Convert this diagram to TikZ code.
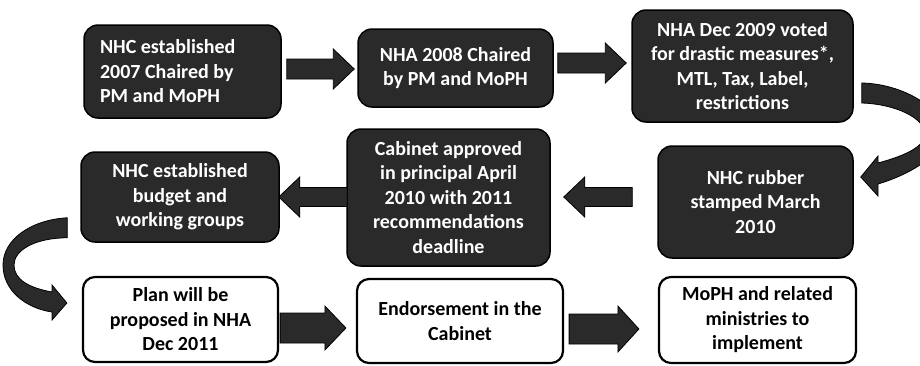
\documentclass[tikz,border=0pt]{standalone}
\usepackage{fontspec}
\setmainfont{Carlito}
\usetikzlibrary{calc}
\definecolor{dk}{HTML}{2A2A2A}
\tikzset{
  boxfont/.style={font=\bfseries\fontsize{20}{24.5}\selectfont},
  darkbox/.style={boxfont, draw=black, line width=1.5pt, fill=dk, rounded corners=14pt,
    text=white, align=center, inner sep=0pt},
  lightbox/.style={boxfont, draw=black, line width=2.2pt, fill=white, rounded corners=12pt,
    text=black, align=center, inner sep=0pt},
  arr/.style={fill=dk, draw=black, line width=0.8pt},
}
% #1 shaft half width, #2 head half width, #3 start, #4 tip
\newcommand\blockarrow[4]{%
  \path[arr] ($(#3)!#1!90:(#4)$)
    -- ($($(#4)!21pt!(#3)$)!#1!-90:(#3)$)
    -- ($($(#4)!21pt!(#3)$)!#2!-90:(#3)$)
    -- (#4)
    -- ($($(#4)!21pt!(#3)$)!#2!90:(#3)$)
    -- ($($(#4)!21pt!(#3)$)!#1!90:(#3)$)
    -- ($(#3)!#1!-90:(#4)$) -- cycle;}
\begin{document}
\begin{tikzpicture}[x=1pt,y=-1pt]
\useasboundingbox (0,0) rectangle (920,365);
% boxes
\node[darkbox, minimum width=197pt, minimum height=93pt, text width=165pt, inner xsep=16pt, align=flush left]
  (b1) at (182.5,71.5) {NHC established\\2007 Chaired by\\PM and MoPH};
\node[darkbox, minimum width=195pt, minimum height=78pt] (b2) at (455.5,68)
  {NHA 2008 Chaired\\by PM and MoPH};
\node[darkbox, minimum width=221pt, minimum height=112pt] (b3) at (742.5,66)
  {NHA Dec 2009 voted\\for drastic measures*,\\MTL, Tax, Label,\\restrictions};
\node[darkbox, minimum width=195pt, minimum height=112pt] (b4) at (755.5,202)
  {NHC rubber\\stamped March\\2010};
\node[darkbox, minimum width=203pt, minimum height=137pt] (b5) at (448.5,197.5)
  {Cabinet approved\\in principal April\\2010 with 2011\\recommendations\\deadline};
\node[darkbox, minimum width=198pt, minimum height=90pt] (b6) at (180,197)
  {NHC established\\budget and\\working groups};
\node[lightbox, minimum width=195pt, minimum height=85pt] (b7) at (180.5,319.5)
  {Plan will be\\proposed in NHA\\Dec 2011};
\node[lightbox, minimum width=206pt, minimum height=84pt] (b8) at (460,321)
  {Endorsement in the\\Cabinet};
\node[lightbox, minimum width=197pt, minimum height=86pt] (b9) at (757.5,320)
  {MoPH and related\\ministries to\\implement};
% straight block arrows
\coordinate (a1s) at ($(b1.east)+(5,-2.5)$);
\coordinate (a1e) at ($(b2.west)+(-3,1)$);
\coordinate (a2s) at ($(b2.east)+(4,-5)$);
\coordinate (a2e) at ($(b3.west)+(-5,-3)$);
\coordinate (a3s) at ($(b4.west)+(-25,-5)$);
\coordinate (a3e) at ($(b5.east)+(13,-0.5)$);
\coordinate (a4s) at ($(b5.west)+(1,-0.5)$);
\coordinate (a4e) at ($(b6.east)+(-1,0)$);
\coordinate (a5s) at ($(b7.east)+(1,8.5)$);
\coordinate (a5e) at ($(b8.west)+(-10,7)$);
\coordinate (a6s) at ($(b8.east)+(5,8)$);
\coordinate (a6e) at ($(b9.west)+(-19,9)$);
\blockarrow{10pt}{20pt}{a1s}{a1e}
\blockarrow{10pt}{20pt}{a2s}{a2e}
\blockarrow{9.5pt}{20pt}{a3s}{a3e}
\blockarrow{9.5pt}{20pt}{a4s}{a4e}
\blockarrow{15pt}{22pt}{a5s}{a5e}
\blockarrow{15pt}{23pt}{a6s}{a6e}
% curved arrow b3 -> b4
\coordinate (c1s) at ($(b3.east)+(8,17)$);
\coordinate (c1e) at ($(b4.east)+(7,-25)$);
\path[arr] (c1s) .. controls (905,84) and (945,110) .. (943,134)
  .. controls (941,158) and (905,176) .. (878,184)
  -- (878,196) -- (c1e) -- (878,156) -- (878,163)
  .. controls (900,157) and (925,148) .. (925,134)
  .. controls (925,118) and (895,104) .. ($(c1s)+(0,20)$) -- cycle;
% curved arrow b6 -> b7
\coordinate (c2s) at ($(b6.south west)+(-13,-25)$);
\coordinate (c2e) at ($(b7.west)+(-15,-16.5)$);
\path[arr] (c2s) .. controls (30,220) and (3,240) .. (3,265)
  .. controls (3,290) and (25,308) .. (52,312)
  -- (52,320) -- (c2e) -- (52,285) -- (52,292)
  .. controls (30,288) and (14,280) .. (14,265)
  .. controls (14,250) and (35,238) .. ($(c2s)+(0,20)$) -- cycle;
\end{tikzpicture}
\end{document}
